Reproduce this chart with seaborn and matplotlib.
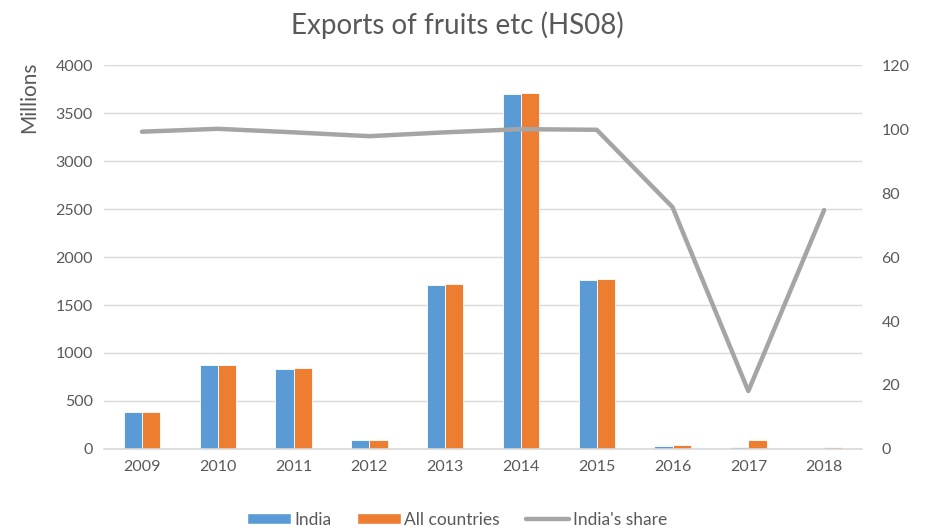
import numpy as np
import pandas as pd
import matplotlib
matplotlib.use("Agg")
import matplotlib.pyplot as plt
import seaborn as sns
from matplotlib.lines import Line2D
from matplotlib.patches import Patch

years = ["2009", "2010", "2011", "2012", "2013", "2014", "2015", "2016", "2017", "2018"]
india = [382, 873, 837, 95, 1710, 3698, 1765, 28, 18, 14]
all_countries = [385, 874, 842, 98, 1722, 3708, 1770, 40, 95, 20]
india_share = [99.2, 100.1, 99.0, 97.8, 99.0, 100.0, 99.8, 75.6, 18.1, 74.7]

blue = "#5B9BD5"
orange = "#ED7D31"
grey = "#A5A5A5"
text_col = "#595959"

sns.set_theme(style="white")
plt.rcParams["font.family"] = ["Lato", "DejaVu Sans"]

df = pd.DataFrame({
    "year": years * 2,
    "value": india + all_countries,
    "series": ["India"] * len(years) + ["All countries"] * len(years),
})

fig = plt.figure(figsize=(9.37, 5.30), dpi=100)
ax = fig.add_axes([0.111, 0.153, 0.809, 0.724])

sns.barplot(data=df, x="year", y="value", hue="series", palette=[blue, orange],
            saturation=1, width=0.48, gap=0, ax=ax, legend=False,
            edgecolor="white", linewidth=0.6)

ax.set_ylim(0, 4000)
ax.set_yticks(np.arange(0, 4001, 500))
ax.set_xlim(-0.5, len(years) - 0.5)
ax.yaxis.grid(True, color="#D9D9D9", linewidth=1)
ax.set_axisbelow(True)
for s in ["top", "right", "left"]:
    ax.spines[s].set_visible(False)
ax.spines["bottom"].set_color("#D9D9D9")
ax.spines["bottom"].set_linewidth(1.2)
ax.tick_params(axis="both", length=0, labelsize=11.5, colors=text_col, pad=8)
ax.set_xlabel("")
ax.set_ylabel("Millions", fontsize=15, color=text_col, loc="top")
ax.yaxis.set_label_coords(-0.085, 1.01)

ax2 = ax.twinx()
ax2.plot(range(len(years)), india_share, color=grey, linewidth=3.2, solid_capstyle="round")
ax2.set_ylim(0, 120)
ax2.set_yticks(np.arange(0, 121, 20))
for s in ["top", "right", "left", "bottom"]:
    ax2.spines[s].set_visible(False)
ax2.tick_params(axis="y", length=0, labelsize=11.5, colors=text_col, pad=14)

fig.suptitle("Exports of fruits etc (HS08)", x=0.488, y=0.978, fontsize=20, color=text_col)

handles = [
    Patch(facecolor=blue, label="India"),
    Patch(facecolor=orange, label="All countries"),
    Line2D([0], [0], color=grey, linewidth=3.2, label="India's share"),
]
fig.legend(handles=handles, loc="lower center", bbox_to_anchor=(0.488, -0.025), ncol=3,
           frameon=False, fontsize=12.5, labelcolor=text_col, handlelength=2.5,
           handleheight=0.6, handletextpad=0.2, columnspacing=1.5)

fig.savefig("out.png", dpi=100)
